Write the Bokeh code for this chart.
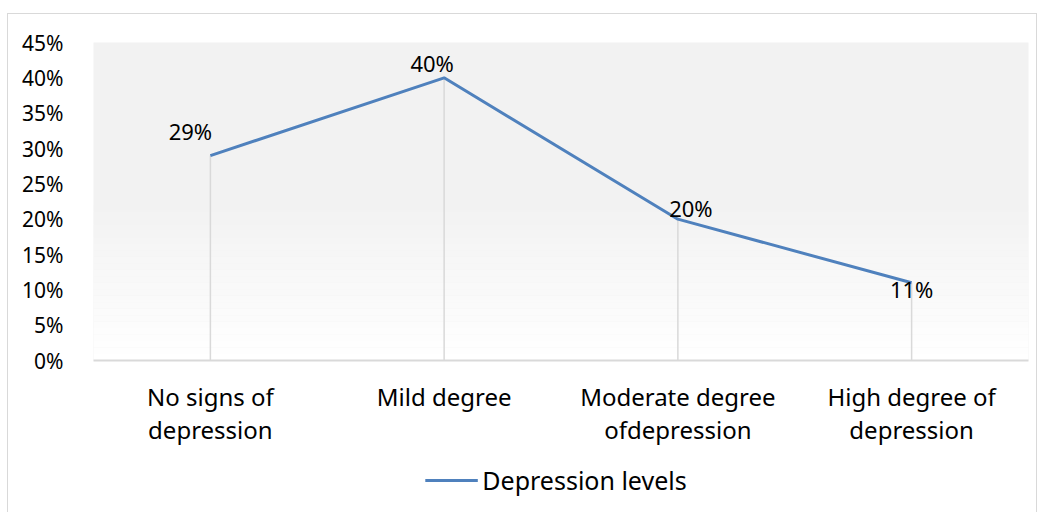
from bokeh.plotting import figure
from bokeh.layouts import column
from bokeh.models import ColumnDataSource, FixedTicker, NumeralTickFormatter, Legend, LegendItem, BoxAnnotation, Range1d
from bokeh.embed import file_html
from bokeh.resources import INLINE
from bokeh.core.properties import value

categories = ["No signs of\ndepression", "Mild degree", "Moderate degree\nofdepression", "High degree of\ndepression"]
values = [0.29, 0.40, 0.20, 0.11]
labels = ["29%", "40%", "20%", "11%"]
y_ticks = [0, 0.05, 0.10, 0.15, 0.20, 0.25, 0.30, 0.35, 0.40, 0.45]
series_name = "Depression levels"

# label offsets (styling)
dx = [-20, -12, 13, 0]
dy = [-25, -15, -11, 6]

FONT = "Noto Sans"
FS_TICK = "21px"
FS_DATA = "22px"
FS_CAT = "24px"
FS_LEG = "25px"
LINE_COLOR = "#4f81bd"

src = ColumnDataSource(dict(x=categories, y=values, y0=[0] * len(values), lab=labels, dx=dx, dy=dy))

p = figure(x_range=categories, y_range=(0, 0.45), frame_width=935, frame_height=318,
           output_backend="svg", toolbar_location=None,
           min_border_left=85, min_border_right=8, min_border_top=28, min_border_bottom=0)
p.x_range.range_padding = 0
p.outline_line_color = None
p.background_fill_color = "#f2f2f2"

# gradient fade to white toward the bottom
n = 24
top_g = 0.22
for i in range(n):
    b = top_g * i / n
    t = top_g * (i + 1) / n
    f = (i + 0.5) / n
    c = int(round(255 - (255 - 242) * f))
    p.add_layout(BoxAnnotation(bottom=b, top=t, fill_color=f"#{c:02x}{c:02x}{c:02x}", fill_alpha=1, line_color=None, level="underlay"))

p.xgrid.visible = False
p.ygrid.visible = False

# drop lines
p.segment(x0="x", y0="y0", x1="x", y1="y", source=src, line_color="#d9d9d9", line_width=1.5)
r = p.line("x", "y", source=src, line_color=LINE_COLOR, line_width=3)

p.text("x", "y", text="lab", source=src, x_offset="dx", y_offset="dy",
       text_align="center", text_baseline="middle", text_font=value(FONT),
       text_font_size=FS_DATA, text_color="#000000")

# y axis
p.yaxis.ticker = FixedTicker(ticks=y_ticks)
p.yaxis.formatter = NumeralTickFormatter(format="0%")
p.yaxis.axis_line_color = None
p.yaxis.major_tick_line_color = None
p.yaxis.minor_tick_line_color = None
p.yaxis.major_label_text_font = FONT
p.yaxis.major_label_text_font_size = FS_TICK
p.yaxis.major_label_text_color = "#000000"
p.yaxis.major_label_standoff = 24

# x axis
p.xaxis.axis_line_color = "#d9d9d9"
p.xaxis.axis_line_width = 2
p.xaxis.major_tick_line_color = None
p.xaxis.minor_tick_line_color = None
p.xaxis.major_label_text_font = FONT
p.xaxis.major_label_text_font_size = FS_CAT
p.xaxis.major_label_text_color = "#000000"
p.xaxis.major_label_standoff = 13
p.xaxis.major_label_text_line_height = 1.0

# legend in a strip below the chart
leg = figure(width=1028, height=64, x_range=Range1d(0, 1), y_range=Range1d(0, 1),
             output_backend="svg", toolbar_location=None,
             x_axis_location=None, y_axis_location=None,
             min_border_left=0, min_border_right=18, min_border_top=0, min_border_bottom=0)
leg.outline_line_color = None
leg.xgrid.visible = False
leg.ygrid.visible = False
# renderer kept outside the visible range: it only supplies the legend swatch
lr = leg.line(x=[-10, -9], y=[-10, -9], line_color=LINE_COLOR, line_width=3)
legend = Legend(items=[LegendItem(label=series_name, renderers=[lr])],
                orientation="horizontal", location="center",
                label_text_font=FONT, label_text_font_size=FS_LEG, label_text_color="#000000",
                glyph_width=53, border_line_color=None, background_fill_alpha=0,
                margin=0, padding=0, label_standoff=5)
leg.add_layout(legend, "center")

layout = column(p, leg, spacing=0,
                styles={"border": "1px solid #d9d9d9", "margin-top": "13px", "margin-left": "7px"})

open("out.html", "w").write(file_html(layout, INLINE))
